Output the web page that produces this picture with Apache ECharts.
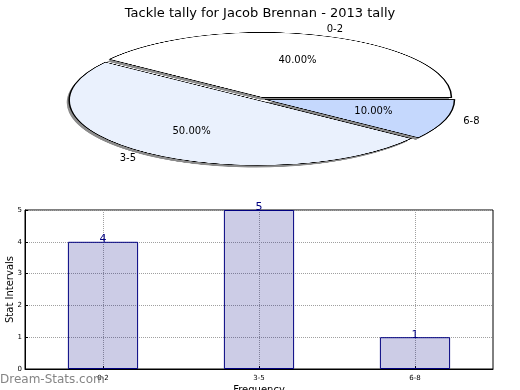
<!DOCTYPE html>
<html><head><meta charset="utf-8">
<script src="https://cdn.jsdelivr.net/npm/echarts@6/dist/echarts.min.js"></script>
<style>
html,body{margin:0;padding:0;background:#fff;}
#wrap{position:relative;width:520px;height:390px;overflow:hidden;}
#pie{position:absolute;left:0;top:0;width:520px;height:560px;transform-origin:0 0;}
#main{position:absolute;left:0;top:0;width:520px;height:390px;}
</style></head><body>
<div id="wrap"><div id="pie"></div><div id="main"></div></div>
<script>
// ---- data ----
const categories = ['0-2', '3-5', '6-8'];
const tallies = [4, 5, 1];
const sliceColors = ['#ffffff', '#eaf1fd', '#c5d8fd'];
const yTicks = [0, 1, 2, 3, 4, 5];
const titleText = 'Tackle tally for Jacob Brennan - 2013 tally';
const xName = 'Frequency';
const yName = 'Stat Intervals';
const watermark = 'Dream-Stats.com';

// ---- layout ----
const FONT = 'DejaVu Sans';
const CX = 261, CY = 99, RX = 189, RY = 65, EXPLODE = 0.025;
const S = RY / RX;
const SHADOW_DX = -2.5, SHADOW_DY = 2.2;

const pieDiv = document.getElementById('pie');
pieDiv.style.transform = 'scaleY(' + S + ')';

function pieSeries(isShadow) {
  return {
    type: 'pie',
    radius: RX,
    center: isShadow ? [CX + SHADOW_DX, (CY + SHADOW_DY) / S] : [CX, CY / S],
    startAngle: 0,
    clockwise: false,
    selectedMode: 'multiple',
    selectedOffset: EXPLODE * RX,
    silent: true,
    z: isShadow ? 1 : 2,
    label: {show: false},
    labelLine: {show: false},
    emphasis: {disabled: true},
    itemStyle: isShadow
      ? {color: 'rgba(0,0,0,0.45)', borderWidth: 0}
      : {borderColor: '#000', borderWidth: 1.5},
    select: {itemStyle: isShadow ? {borderWidth: 0} : {borderColor: '#000', borderWidth: 1.5}},
    data: categories.map((c, i) => {
      const col = isShadow ? 'rgba(0,0,0,0.45)' : sliceColors[i];
      return {
        name: c, value: tallies[i], selected: true,
        itemStyle: {color: col},
        select: {itemStyle: {color: col}}
      };
    })
  };
}

const pieChart = echarts.init(pieDiv, null, {renderer: 'canvas'});
pieChart.setOption({
  animation: false,
  series: [pieSeries(true), pieSeries(false)]
});

// pie labels (placed on the squashed ellipse, computed from data)
const total = tallies.reduce((a, b) => a + b, 0);
const graphics = [];
let acc = 0;
categories.forEach((c, i) => {
  const frac = tallies[i] / total;
  const mid = (acc + frac / 2) * 2 * Math.PI;
  acc += frac;
  const cs = Math.cos(mid), sn = Math.sin(mid);
  const al = cs >= 0 ? 'left' : 'right';
  graphics.push({
    type: 'text', silent: true,
    x: CX + (EXPLODE + 1.1) * RX * cs, y: CY - (EXPLODE + 1.1) * RY * sn,
    style: {text: c, font: '10px "' + FONT + '"', fill: '#000',
      align: al, verticalAlign: 'middle', textAlign: al, textVerticalAlign: 'middle'}
  });
  graphics.push({
    type: 'text', silent: true,
    x: CX + (EXPLODE + 0.6) * RX * cs, y: CY - (EXPLODE + 0.6) * RY * sn,
    style: {text: (frac * 100).toFixed(2) + '%', font: '10px "' + FONT + '"', fill: '#000',
      align: 'center', verticalAlign: 'middle', textAlign: 'center', textVerticalAlign: 'middle'}
  });
});
graphics.push({
  type: 'text', silent: true, x: 0, y: 380, z: 100,
  style: {text: watermark, font: '12px "' + FONT + '"', fill: 'rgba(110,110,110,0.85)',
    align: 'left', verticalAlign: 'middle', textAlign: 'left', textVerticalAlign: 'middle'}
});

const main = echarts.init(document.getElementById('main'), null, {renderer: 'canvas'});
main.setOption({
  animation: false,
  backgroundColor: 'transparent',
  textStyle: {fontFamily: FONT},
  title: {
    text: titleText, left: 'center', top: 2,
    textStyle: {fontSize: 13, fontWeight: 'normal', color: '#000', fontFamily: FONT}
  },
  graphic: graphics,
  grid: {left: 25, right: 27, top: 210, bottom: 21, show: true,
    containLabel: false, outerBoundsMode: 'none',
    borderColor: '#000', borderWidth: 1, backgroundColor: 'transparent'},
  xAxis: {
    type: 'category', data: categories,
    name: xName, nameLocation: 'middle', nameGap: 16, nameMoveOverlap: false,
    nameTextStyle: {fontSize: 10, color: '#000', fontFamily: FONT},
    axisLine: {show: true, lineStyle: {color: '#000', width: 1}},
    axisTick: {show: true, inside: true, alignWithLabel: true, length: 3, lineStyle: {color: '#000'}},
    axisLabel: {fontSize: 7, color: '#000', margin: 6, fontFamily: FONT},
    splitLine: {show: true, alignWithLabel: true, lineStyle: {type: 'dotted', color: '#a0a0a0', width: 1}}
  },
  yAxis: {
    type: 'value', min: yTicks[0], max: yTicks[yTicks.length - 1], interval: yTicks[1] - yTicks[0],
    name: yName, nameLocation: 'middle', nameGap: 10, nameRotate: 90, nameMoveOverlap: false,
    nameTextStyle: {fontSize: 10, color: '#000', fontFamily: FONT},
    axisLine: {show: true, lineStyle: {color: '#000', width: 1}},
    axisTick: {show: true, inside: true, length: 3, lineStyle: {color: '#000'}},
    axisLabel: {fontSize: 7, color: '#000', margin: 3, fontFamily: FONT},
    splitLine: {show: true, lineStyle: {type: 'dotted', color: '#a0a0a0', width: 1}}
  },
  series: [{
    type: 'bar', data: tallies, barWidth: '45%', silent: true,
    itemStyle: {color: 'rgba(0,0,128,0.2)', borderColor: '#000080', borderWidth: 1},
    label: {show: true, position: 'top', distance: -3, color: '#000080', fontSize: 11, fontFamily: FONT}
  }]
});
</script>
</body></html>
